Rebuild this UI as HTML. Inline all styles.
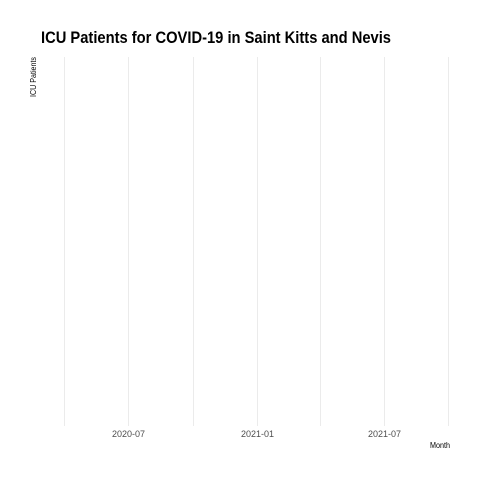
<!DOCTYPE html>
<html><head><meta charset="utf-8"><style>
body{margin:0;background:#fff}
svg{display:block;font-family:"Liberation Sans",sans-serif}
</style></head><body>
<svg id="chart" width="480" height="480">
<rect width="480" height="480" fill="#fff"/>
<text x="41" y="43" font-size="17" font-weight="bold" textLength="350" lengthAdjust="spacingAndGlyphs" fill="#000">ICU Patients for COVID-19 in Saint Kitts and Nevis</text>
<g id="grid"></g>
<g id="xticks"></g>
<text x="450" y="448" font-size="8" text-anchor="end" textLength="20" lengthAdjust="spacingAndGlyphs" fill="#000">Month</text>
<text transform="translate(36,97) rotate(-90)" font-size="8" textLength="40" lengthAdjust="spacingAndGlyphs" fill="#000">ICU Patients</text>
</svg>
<script>
const majorTicks = ["2020-07-01","2021-01-01","2021-07-01"];
const majorLabels = ["2020-07","2021-01","2021-07"];
const minorTicks = ["2020-04-01","2020-10-01","2021-04-01","2021-10-01"];
const dates = [];
const icuValues = [];
const t0 = Date.parse("2020-07-01"), t1 = Date.parse("2021-01-01");
function xScale(d){ return 128 + (Date.parse(d) - t0) / (t1 - t0) * 129; }
const NS = "http://www.w3.org/2000/svg";
const grid = document.getElementById("grid"), xt = document.getElementById("xticks");
function line(x, name){
  const l = document.createElementNS(NS, "line");
  l.setAttribute("x1", x); l.setAttribute("x2", x);
  l.setAttribute("y1", 57); l.setAttribute("y2", 426);
  l.setAttribute("stroke", "#ebebeb"); l.setAttribute("stroke-width", "1");
  
  
  grid.appendChild(l);
}
minorTicks.forEach(d => line(Math.round(xScale(d)) + 0.5, "minor-gridline"));
majorTicks.forEach((d, i) => {
  const x = Math.round(xScale(d)) + 0.5;
  line(x, "major-gridline");
  const t = document.createElementNS(NS, "text");
  t.setAttribute("x", x); t.setAttribute("y", 437);
  t.setAttribute("font-size", "9"); t.setAttribute("text-anchor", "middle");
  t.setAttribute("fill", "#4d4d4d");
  t.setAttribute("textLength", "33"); t.setAttribute("lengthAdjust", "spacingAndGlyphs");
  t.textContent = majorLabels[i];
  
  
  xt.appendChild(t);
});
</script>
</body></html>
